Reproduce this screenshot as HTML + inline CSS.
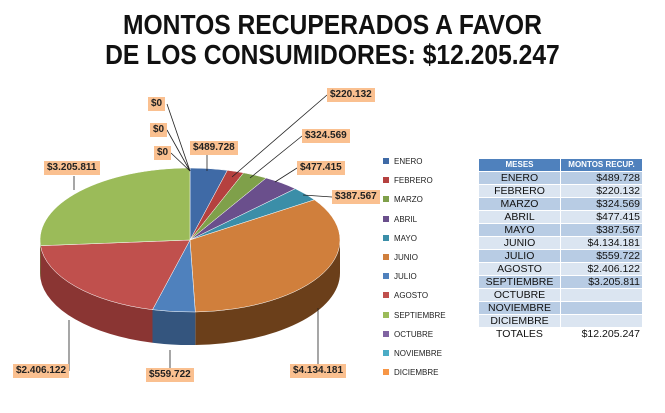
<!DOCTYPE html>
<html><head><meta charset="utf-8"><style>
body{margin:0;width:665px;height:413px;background:#fff;overflow:hidden;font-family:"Liberation Sans",sans-serif;position:relative}
.t{position:absolute;left:0;width:665px;text-align:center;font-weight:bold;font-size:28px;color:#111;transform:scaleX(0.88);transform-origin:332px 0}
.lab{position:absolute;background:#fac090;font-weight:bold;font-size:10px;height:14px;line-height:14px;padding:0 3px;color:#222}
.lg{position:absolute;left:383px;font-size:8px;color:#222}
.lg i{display:inline-block;width:6px;height:6px;margin-right:5px;vertical-align:0}
table{position:absolute;left:478px;top:158px;border-collapse:collapse;font-size:10.5px;color:#111}
td{height:12px;padding:0 2px;line-height:12px;border:1px solid #fff}
td:first-child{width:77px;text-align:center}td:last-child{width:77px;text-align:right}
tr.h td{background:#4f81bd;color:#fff;font-weight:bold;font-size:8px;text-align:center}
tr.a td{background:#b8cce4}tr.b td{background:#dbe5f1}
</style></head><body>
<div class="t" style="top:9px">MONTOS RECUPERADOS A FAVOR</div>
<div class="t" style="top:39px">DE LOS CONSUMIDORES: $12.205.247</div>
<svg id="s" width="665" height="413" style="position:absolute;left:0;top:0"></svg>
<div class="lab" style="left:327px;top:88px">$220.132</div>
<div class="lab" style="left:302px;top:129px">$324.569</div>
<div class="lab" style="left:297px;top:161px">$477.415</div>
<div class="lab" style="left:332px;top:190px">$387.567</div>
<div class="lab" style="left:190px;top:141px">$489.728</div>
<div class="lab" style="left:148px;top:97px">$0</div>
<div class="lab" style="left:150px;top:123px">$0</div>
<div class="lab" style="left:154px;top:146px">$0</div>
<div class="lab" style="left:44px;top:161px">$3.205.811</div>
<div class="lab" style="left:13px;top:364px">$2.406.122</div>
<div class="lab" style="left:146px;top:368px">$559.722</div>
<div class="lab" style="left:290px;top:364px">$4.134.181</div>
<div id="lg"></div>
<table>
<tr class="h"><td>MESES</td><td>MONTOS RECUP.</td></tr>
<tr class="a"><td>ENERO</td><td>$489.728</td></tr>
<tr class="b"><td>FEBRERO</td><td>$220.132</td></tr>
<tr class="a"><td>MARZO</td><td>$324.569</td></tr>
<tr class="b"><td>ABRIL</td><td>$477.415</td></tr>
<tr class="a"><td>MAYO</td><td>$387.567</td></tr>
<tr class="b"><td>JUNIO</td><td>$4.134.181</td></tr>
<tr class="a"><td>JULIO</td><td>$559.722</td></tr>
<tr class="b"><td>AGOSTO</td><td>$2.406.122</td></tr>
<tr class="a"><td>SEPTIEMBRE</td><td>$3.205.811</td></tr>
<tr class="b"><td>OCTUBRE</td><td></td></tr>
<tr class="a"><td>NOVIEMBRE</td><td></td></tr>
<tr class="b"><td>DICIEMBRE</td><td></td></tr>
<tr><td>TOTALES</td><td>$12.205.247</td></tr>
</table>
<script>
var v=[489728,220132,324569,477415,387567,4134181,559722,2406122,3205811];
var c=["#3f6aa6","#b5413f","#7fa04a","#6a4f8c","#3b8ea8","#d07f3c","#4f81bd","#c0504d","#9bbb59"];
var sd=["#2c4b78","#7f2e2c","#5a7233","#4a3863","#2a6477","#6b3f1a","#34557e","#8a3533","#6d8540"];
var tot=v.reduce((a,b)=>a+b),cx=190,cy=240,rx=150,ry=72,d=33,s="";
function P(t,dy){return [(cx+rx*Math.sin(t)).toFixed(1),(cy+dy-ry*Math.cos(t)).toFixed(1)]}
var a=0,ang=[];for(var i=0;i<v.length;i++){var b=a+v[i]/tot*2*Math.PI;ang.push([a,b]);a=b}
for(i=0;i<v.length;i++){var a0=Math.max(ang[i][0],Math.PI/2),a1=Math.min(ang[i][1],1.5*Math.PI);
if(a1>a0){var p0=P(a0,0),p1=P(a1,0),q1=P(a1,d),q0=P(a0,d);
s+='<path d="M'+p0+' A'+rx+' '+ry+' 0 0 1 '+p1+' L'+q1+' A'+rx+' '+ry+' 0 0 0 '+q0+' Z" fill="'+sd[i]+'"/>';}}
for(i=0;i<v.length;i++){var p0=P(ang[i][0],0),p1=P(ang[i][1],0),lg=(ang[i][1]-ang[i][0])>Math.PI?1:0;
s+='<path d="M'+cx+' '+cy+' L'+p0+' A'+rx+' '+ry+' 0 '+lg+' 1 '+p1+' Z" fill="'+c[i]+'" stroke="#fff" stroke-width="0.5"/>';}
var L=[[167,104,190,171],[167,130,190,171],[171,153,190,171],[207,148,207,171],[327,95,232,177],[302,136,250,178],[297,168,275,182],[332,197,303,195],[74,176,74,190],[69,371,69,320],[170,368,170,350],[318,364,318,308]];
L.forEach(l=>{s+='<polyline points="'+l[0]+','+l[1]+' '+l[2]+','+l[3]+'" stroke="#222" stroke-width="0.8" fill="none"/>'});
document.getElementById('s').innerHTML=s;
var n=["ENERO","FEBRERO","MARZO","ABRIL","MAYO","JUNIO","JULIO","AGOSTO","SEPTIEMBRE","OCTUBRE","NOVIEMBRE","DICIEMBRE"];
var lc=c.concat(["#8064a2","#4bacc6","#f79646"]),h="";
n.forEach((t,k)=>{h+='<div class="lg" style="top:'+(157+k*19.2)+'px"><i style="background:'+lc[k]+'"></i>'+t+'</div>'});
document.getElementById('lg').innerHTML=h;
</script>
</body></html>
